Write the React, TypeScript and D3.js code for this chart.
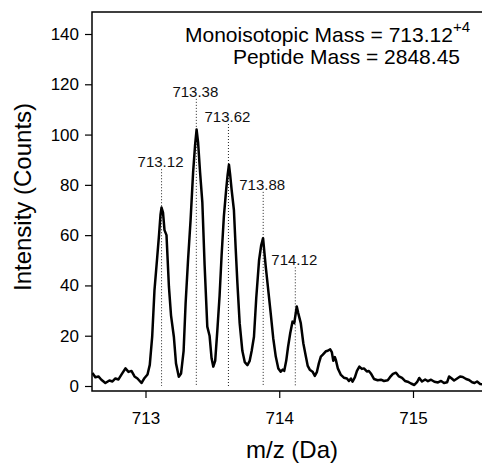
import React, { useEffect, useRef } from 'react';
import * as d3 from 'd3';

// spectrum (m/z, counts)
const spectrumMz = [
  712.603, 712.625, 712.648, 712.670, 712.700, 712.730, 712.753, 712.775, 712.798, 712.820,
  712.850, 712.873, 712.895, 712.918, 712.940, 712.970, 712.993, 713.015, 713.032, 713.050,
  713.067, 713.088, 713.101, 713.112, 713.120, 713.131, 713.142, 713.157, 713.175, 713.191,
  713.212, 713.228, 713.249, 713.266, 713.285, 713.300, 713.318, 713.337, 713.356, 713.371,
  713.382, 713.393, 713.408, 713.425, 713.442, 713.462, 713.479, 713.494, 713.507, 713.521,
  713.537, 713.554, 713.569, 713.586, 713.603, 713.614, 713.624, 713.633, 713.644, 713.661,
  713.674, 713.687, 713.704, 713.724, 713.742, 713.762, 713.779, 713.794, 713.811, 713.828,
  713.849, 713.865, 713.879, 713.891, 713.899, 713.914, 713.936, 713.955, 713.974, 713.993,
  714.011, 714.026, 714.037, 714.052, 714.066, 714.082, 714.099, 714.112, 714.131, 714.142,
  714.161, 714.180, 714.199, 714.213, 714.228, 714.249, 714.266, 714.281, 714.296, 714.311,
  714.326, 714.348, 714.363, 714.381, 714.393, 714.404, 714.416, 714.423, 714.438, 714.461,
  714.483, 714.506, 714.521, 714.536, 714.548, 714.566, 714.581, 714.599, 714.618, 714.633,
  714.655, 714.670, 714.685, 714.708, 714.736, 714.760, 714.783, 714.811, 714.828, 714.850,
  714.873, 714.895, 714.918, 714.940, 714.960, 714.985, 715.010, 715.030, 715.047, 715.067,
  715.091, 715.112, 715.135, 715.160, 715.187, 715.210, 715.232, 715.255, 715.270, 715.285,
  715.307, 715.330, 715.352, 715.372, 715.397, 715.419, 715.442, 715.460, 715.479, 715.502,
  715.524,
];
const spectrumCounts = [
  5.2, 3.5, 3.8, 2.5, 1.2, 2.2, 1.8, 3.0, 2.6, 4.5,
  7.0, 5.6, 6.0, 3.8, 3.0, 1.2, 3.2, 4.6, 8.4, 19.6,
  38, 51.5, 60, 68, 71, 69, 62, 60, 39.6, 28,
  19.6, 9, 3.7, 5, 14, 33, 50, 66, 85, 96,
  102, 97, 85, 73, 48, 23.6, 20, 11, 7.7, 10,
  22, 36, 52, 67.5, 78, 84, 88, 84, 78, 70,
  55, 41, 25, 14, 9.5, 8.3, 10, 14, 19.6, 35,
  50, 56, 58.8, 52, 47.5, 40, 29, 19, 11.7, 7,
  5.7, 6.5, 6, 10, 15.6, 21, 25.6, 25, 31.6, 29,
  25, 17, 11.7, 8, 6.5, 5.7, 4, 5.5, 9, 11.7,
  12.5, 13.8, 14, 14.6, 13.5, 10, 11.5, 10.4, 7, 4.4,
  3.3, 3.0, 2.0, 3.0, 1.7, 3.5, 6.0, 7.7, 6.8, 7.0,
  5.8, 6.0, 5.0, 2.8, 2.3, 2.5, 2.0, 2.3, 3.5, 4.8,
  5.3, 3.8, 3.2, 2.0, 1.7, 1.0, 0.4, 1.5, 3.2, 1.8,
  2.6, 1.9, 2.5, 1.7, 1.4, 2.0, 1.2, 1.5, 3.8, 3.2,
  2.2, 3.0, 3.8, 3.6, 2.8, 2.4, 1.5, 1.2, 1.8, 0.8,
  0.6,
];

// isotope peaks marked with dotted lines
const peakMz = [713.12, 713.38, 713.62, 713.88, 714.12];
const peakLabels = ['713.12', '713.38', '713.62', '713.88', '714.12'];
const peakLabelLevel = [87, 115, 105, 78, 48];

const xTicks = [713, 714, 715];
const yTicks = [0, 20, 40, 60, 80, 100, 120, 140];

const FONT = '"Liberation Sans", Arial, Helvetica, sans-serif';

const App = () => {
  const svgRef = useRef<SVGSVGElement | null>(null);
  const width = 482;
  const height = 463;

  useEffect(() => {
    const svg = d3.select(svgRef.current);
    svg.selectAll('*').remove();

    const plot = { left: 92, right: 482, top: 12, bottom: 391 };

    const xScale = d3.scaleLinear().domain([713, 715]).range([145.5, 413]);
    const yScale = d3.scaleLinear().domain([0, 140]).range([386, 34]);

    svg.append('defs')
      .append('clipPath')
      .attr('id', 'plot-clip')
      .append('rect')
      .attr('x', plot.left)
      .attr('y', plot.top)
      .attr('width', plot.right - plot.left)
      .attr('height', plot.bottom - plot.top);

    // dotted markers + labels
    const peaks = peakMz.map((mz, i) => ({ mz, label: peakLabels[i], level: peakLabelLevel[i] }));

    svg.selectAll('.marker')
      .data(peaks)
      .enter().append('line')
      .attr('class', 'marker')
      .attr('x1', d => xScale(d.mz))
      .attr('x2', d => xScale(d.mz))
      .attr('y1', d => yScale(d.level) + 2)
      .attr('y2', yScale(0))
      .attr('stroke', '#222')
      .attr('stroke-width', 1)
      .attr('stroke-dasharray', '1,2');

    svg.selectAll('.peak-label')
      .data(peaks)
      .enter().append('text')
      .attr('class', 'peak-label')
      .attr('x', d => xScale(d.mz) - 1)
      .attr('y', d => yScale(d.level))
      .attr('text-anchor', 'middle')
      .style('font-family', FONT)
      .style('font-size', '15px')
      .style('fill', '#111')
      .text(d => d.label);

    // spectrum trace
    const points: [number, number][] = spectrumMz.map((mz, i) => [mz, spectrumCounts[i]]);
    const line = d3.line<[number, number]>()
      .x(d => xScale(d[0]))
      .y(d => yScale(d[1]));

    svg.append('path')
      .datum(points)
      .attr('clip-path', 'url(#plot-clip)')
      .attr('d', line)
      .attr('fill', 'none')
      .attr('stroke', '#000')
      .attr('stroke-width', 2.5)
      .attr('stroke-linejoin', 'round');

    // frame: left, bottom and top lines
    svg.append('path')
      .attr('d', `M${plot.right},${plot.top}H${plot.left}V${plot.bottom}H${plot.right}`)
      .attr('fill', 'none')
      .attr('stroke', '#000')
      .attr('stroke-width', 1.5);

    const yAxis = svg.append('g')
      .attr('transform', `translate(${plot.left}, 0)`)
      .call(d3.axisLeft(yScale).tickValues(yTicks).tickSize(7).tickPadding(6).tickFormat(d3.format('d')));
    yAxis.select('.domain').remove();
    yAxis.selectAll('line').attr('stroke', '#000').attr('stroke-width', 1.2);
    yAxis.selectAll('text')
      .style('font-family', FONT)
      .style('font-size', '17px')
      .style('fill', '#000');

    const xAxis = svg.append('g')
      .attr('transform', `translate(0, ${plot.bottom})`)
      .call(d3.axisBottom(xScale).tickValues(xTicks).tickSize(7).tickPadding(14).tickFormat(d3.format('d')));
    xAxis.select('.domain').remove();
    xAxis.selectAll('line').attr('stroke', '#000').attr('stroke-width', 1.2);
    xAxis.selectAll('text')
      .style('font-family', FONT)
      .style('font-size', '17px')
      .style('fill', '#000');

    // axis titles
    svg.append('text')
      .attr('x', 292)
      .attr('y', 458)
      .attr('text-anchor', 'middle')
      .style('font-family', FONT)
      .style('font-size', '24px')
      .text('m/z (Da)');

    svg.append('text')
      .attr('transform', 'rotate(-90)')
      .attr('x', -197)
      .attr('y', 31)
      .attr('text-anchor', 'middle')
      .style('font-family', FONT)
      .style('font-size', '24px')
      .text('Intensity (Counts)');

    // annotation
    const note1 = svg.append('text')
      .attr('x', 470)
      .attr('y', 42)
      .attr('text-anchor', 'end')
      .style('font-family', FONT)
      .style('font-size', '21px');
    note1.append('tspan').text('Monoisotopic Mass = 713.12');
    note1.append('tspan')
      .attr('dy', -10)
      .style('font-size', '15px')
      .text('+4');

    svg.append('text')
      .attr('x', 460)
      .attr('y', 64)
      .attr('text-anchor', 'end')
      .style('font-family', FONT)
      .style('font-size', '21px')
      .text('Peptide Mass = 2848.45');
  }, []);

  return (
    <div style={{ position: 'absolute', left: 0, top: 0 }}>
      <svg ref={svgRef} width={width} height={height} style={{ display: 'block', background: '#fff' }}></svg>
    </div>
  );
};

export default App;
